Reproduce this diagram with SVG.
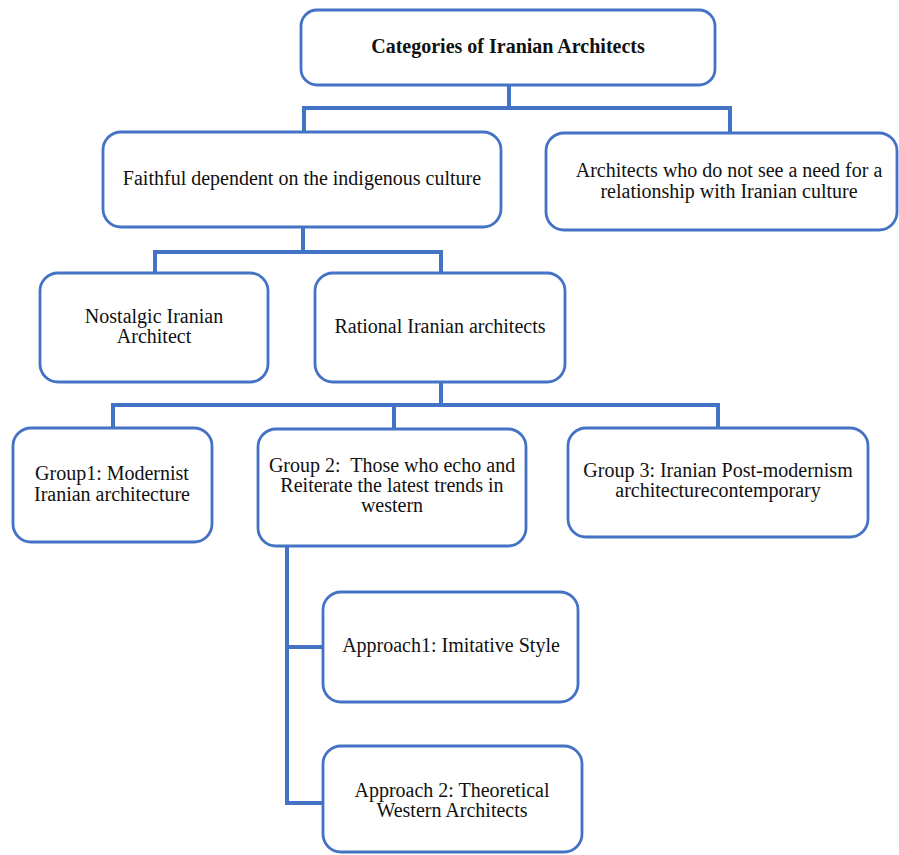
<svg xmlns="http://www.w3.org/2000/svg" width="899" height="855" viewBox="0 0 899 855">
<style>
.box{fill:#fff;stroke:#4472C4;stroke-width:2.8}
.con{fill:none;stroke:#4472C4;stroke-width:4;stroke-linejoin:miter}
text{font-family:"Liberation Serif","Times New Roman",serif;font-size:20px;fill:#111;text-anchor:middle}
.b{font-weight:bold}
</style>
<rect width="899" height="855" fill="#fff"/>
<g id="connectors">
<path class="con" d="M509 85V108M304 131V108H730V133"/>
<path class="con" d="M303 227V252M155 273V252H441V273"/>
<path class="con" d="M441 382V405M113 428V405H718V428M394 405V429"/>
<path class="con" d="M287 546V803H323M287 647H323"/>
</g>
<g id="n-top"><rect class="box" x="301" y="10" width="414" height="75" rx="16"/><text class="b" x="508" y="53">Categories of Iranian Architects</text></g>
<g id="n-faithful"><rect class="box" x="103" y="132" width="398" height="95" rx="18"/><text x="302" y="185">Faithful dependent on the indigenous culture</text></g>
<g id="n-nosee"><rect class="box" x="546" y="133" width="351" height="97" rx="18"/><text x="729" y="177">Architects who do not see a need for a</text><text x="729" y="198">relationship with Iranian culture</text></g>
<g id="n-nostalgic"><rect class="box" x="40" y="273" width="228" height="109" rx="18"/><text x="154" y="323">Nostalgic Iranian</text><text x="154" y="343">Architect</text></g>
<g id="n-rational"><rect class="box" x="315" y="273" width="250" height="109" rx="18"/><text x="440" y="333">Rational Iranian architects</text></g>
<g id="n-group1"><rect class="box" x="13" y="428" width="199" height="114" rx="18"/><text x="112" y="480">Group1: Modernist</text><text x="112" y="501">Iranian architecture</text></g>
<g id="n-group2"><rect class="box" x="258" y="429" width="268" height="117" rx="18"/><text x="392" y="472" xml:space="preserve">Group 2:  Those who echo and</text><text x="392" y="492">Reiterate the latest trends in</text><text x="392" y="512">western</text></g>
<g id="n-group3"><rect class="box" x="568" y="428" width="300" height="109" rx="18"/><text x="718" y="477">Group 3: Iranian Post-modernism</text><text x="718" y="497">architecturecontemporary</text></g>
<g id="n-approach1"><rect class="box" x="323" y="592" width="255" height="110" rx="18"/><text x="451" y="652">Approach1: Imitative Style</text></g>
<g id="n-approach2"><rect class="box" x="323" y="746" width="259" height="106" rx="18"/><text x="452" y="797">Approach 2: Theoretical</text><text x="452" y="817">Western Architects</text></g>
</svg>
